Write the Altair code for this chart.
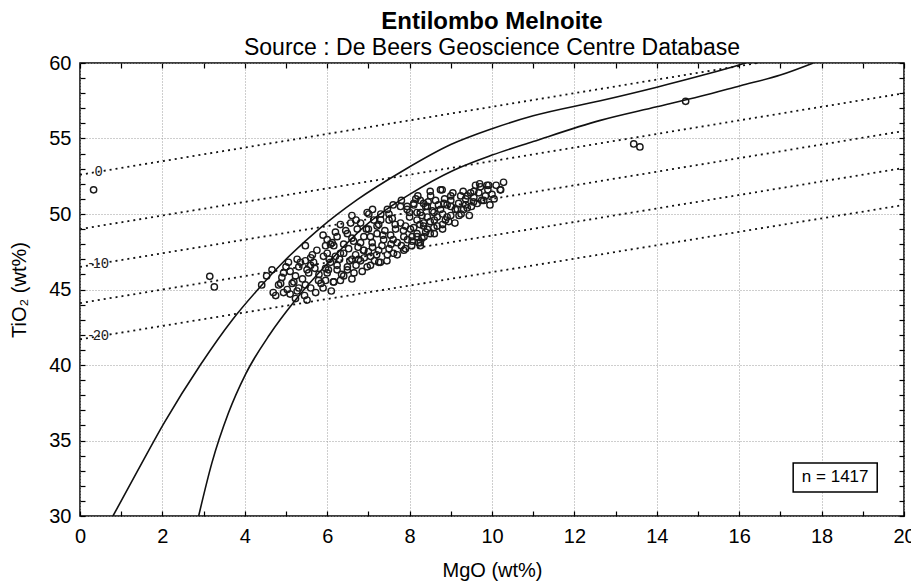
import altair as alt
import pandas as pd

FONT = "Liberation Sans"

# ---- Analyses (MgO, TiO2 in wt%) ----
mgo = [
    4.41, 4.53, 4.66, 4.69, 4.75, 4.82, 4.94, 5.06, 4.94, 5.19, 5.27, 5.31, 5.47, 5.51, 5.72,
    5.60, 5.79, 5.91, 5.96, 6.08, 6.15, 6.32, 6.24, 6.40, 6.49, 6.57, 6.64, 6.76, 6.81, 6.88,
    6.97, 7.05, 7.05, 7.21, 7.25, 7.33, 7.46, 7.54, 7.61, 7.78, 7.86, 7.94, 8.06, 8.18, 8.26,
    8.34, 8.43, 8.59, 8.75, 8.67, 8.83, 8.91, 9.00, 9.16, 9.24, 9.36, 9.48, 9.64, 9.72, 9.88,
    9.84, 10.20, 10.28,
    4.87, 5.15, 5.03, 5.27, 5.47, 5.55, 5.67, 5.96, 6.12, 6.03, 5.96, 5.47, 5.64, 5.23, 5.51,
    5.31, 5.23,
    7.01, 7.13, 7.58, 7.78, 7.94, 8.10, 8.26, 8.43, 6.00, 6.24, 6.49, 6.73, 6.89, 7.21, 7.37,
    7.66, 7.86, 8.02, 8.18, 8.34, 7.70, 8.06, 8.26, 7.90, 6.00, 6.16, 6.32, 6.52, 6.69, 6.89,
    7.05, 7.25, 7.46, 7.29, 6.81, 6.08, 6.24, 6.49, 6.65, 6.32, 6.00, 6.16, 6.97, 6.81, 7.09,
    7.25,
    8.79, 9.92, 10.21, 9.68, 9.56, 9.56, 9.40, 9.19, 9.36, 9.11, 9.31, 8.91, 8.51, 8.63, 8.26,
    8.39, 8.10, 8.75, 8.55, 8.18, 8.43, 8.67, 8.87, 8.34, 8.59, 8.10, 8.18, 8.39, 8.22,
    6.60, 7.30, 7.60, 8.20, 8.50, 9.00, 9.70, 9.50, 9.80, 10.00, 9.20,
    5.80, 6.30, 6.60, 6.90, 7.10, 7.40, 7.60, 7.90, 8.00, 7.50, 7.00, 6.60, 6.40, 6.20, 5.70,
    5.40, 5.10, 4.90, 5.60, 5.90, 6.40, 6.70, 7.15, 7.50, 7.80, 8.30, 8.50, 8.80, 9.00, 8.60,
    8.30, 8.80, 9.00,
    5.00, 5.10, 5.35, 5.45, 5.60, 5.75, 5.85, 5.90, 6.05, 6.10, 6.20, 6.35, 6.45, 6.55, 6.60,
    6.70, 6.75, 6.85, 6.95, 7.00, 7.10, 7.20, 7.30, 7.35, 7.45, 7.50, 7.55, 7.65, 7.70, 7.80,
    7.85, 7.95, 8.00, 8.05, 8.15, 8.25, 8.35, 8.45, 8.50, 8.60, 8.70, 8.80, 8.85, 8.95, 9.05,
    9.10, 9.25, 9.30, 9.40, 9.45, 9.55, 9.60, 9.75, 9.90, 10.05, 10.10, 9.95,
    0.33, 3.15, 3.26, 13.44, 13.59, 14.70,
]
tio2 = [
    45.3, 45.9, 46.3, 44.8, 44.6, 45.3, 46.1, 46.8, 44.8, 45.5, 47.0, 45.1, 47.9, 46.3, 44.8,
    47.1, 45.6, 47.2, 46.4, 48.0, 45.5, 49.3, 46.6, 47.4, 46.3, 49.4, 48.2, 47.0, 49.4, 47.6,
    50.1, 48.5, 46.6, 49.2, 46.8, 47.9, 50.3, 48.6, 47.4, 49.4, 47.6, 50.5, 48.5, 49.6, 47.9,
    50.7, 49.0, 50.1, 51.6, 49.2, 50.7, 49.8, 50.5, 50.3, 51.2, 51.0, 51.4, 50.7, 51.8, 51.9,
    51.2, 51.6, 52.1,
    45.4, 45.4, 45.0, 44.9, 45.3, 46.1, 46.8, 47.9, 48.1, 46.3, 45.6, 46.9, 47.3, 44.4, 44.3,
    46.5, 45.9,
    50.0, 49.6, 49.7, 50.5, 50.3, 50.6, 50.1, 50.5, 48.3, 48.5, 48.7, 49.0, 48.5, 48.7, 48.3,
    49.0, 48.5, 49.0, 48.7, 49.2, 48.1, 48.2, 48.1, 47.7, 47.4, 47.9, 47.4, 47.7, 47.3, 47.6,
    47.2, 47.6, 47.3, 46.8, 46.9, 46.8, 46.3, 46.5, 46.1, 45.6, 46.1, 45.5, 46.5, 48.1, 48.1,
    49.3,
    51.6, 51.9, 51.6, 51.4, 51.5, 51.1, 51.2, 50.7, 50.6, 50.3, 50.3, 50.6, 51.2, 50.9, 50.9,
    50.5, 50.7, 50.3, 50.2, 50.1, 49.8, 49.8, 49.6, 49.4, 49.1, 49.1, 48.5, 48.8, 48.1,
    49.9, 50.0, 50.6, 51.2, 51.5, 51.2, 52.0, 50.5, 50.9, 51.3, 49.9,
    46.0, 47.0, 47.0, 47.1, 47.8, 48.9, 48.3, 49.2, 49.8, 49.6, 49.0, 48.4, 48.0, 47.2, 46.4,
    45.7, 46.2, 45.8, 45.1, 45.1, 45.9, 46.6, 46.9, 47.7, 47.9, 48.4, 48.7, 49.3, 49.9, 49.6,
    49.9, 50.0, 50.9,
    46.5, 44.7, 46.8, 44.6, 46.6, 47.6, 45.4, 48.6, 47.0, 44.9, 48.8, 46.0, 48.9, 46.9, 45.7,
    49.6, 47.8, 46.2, 49.0, 47.5, 50.3, 47.3, 49.6, 48.6, 46.9, 50.0, 48.0, 49.3, 47.3, 50.9,
    48.9, 48.3, 50.1, 47.9, 51.0, 49.3, 48.5, 50.8, 49.5, 48.7, 50.6, 49.0, 51.0, 49.5, 51.4,
    49.4, 50.0, 51.5, 50.4, 49.9, 50.8, 51.9, 50.9, 51.6, 51.0, 51.9, 50.6,
    51.6, 45.87, 45.17, 54.64, 54.44, 57.46,
]

# ---- Solid model curves ----
curve_a_mgo = [0.80, 1.40, 2.05, 2.92, 3.70, 4.35, 5.00, 5.80, 6.73, 7.86, 9.00, 10.00,
               11.00, 12.63, 14.00, 15.06, 16.03, 16.20]
curve_a_tio2 = [30.0, 33.0, 36.2, 40.0, 43.0, 45.1, 47.0, 49.0, 50.95, 52.9, 54.6, 55.65,
                56.5, 57.5, 58.4, 59.15, 59.9, 60.05]
curve_b_mgo = [2.88, 3.20, 3.60, 4.02, 4.60, 5.20, 6.00, 7.00, 7.60, 8.00, 9.07, 10.00,
               11.00, 12.63, 14.00, 15.06, 16.03, 17.00, 17.80]
curve_b_tio2 = [30.0, 33.5, 36.8, 39.4, 42.0, 44.2, 46.7, 49.4, 50.6, 51.3, 52.9, 53.9,
                54.8, 56.2, 57.1, 57.8, 58.5, 59.2, 60.0]

# ---- Dotted reference lines (TiO2 at MgO = 0 and MgO = 20) ----
ref_left = [52.6, 49.0, 46.5, 44.1, 41.7]
ref_right = [61.6, 58.0, 55.5, 53.05, 50.6]
ref_labels = ["0", "", "-10", "", "-20"]
label_mgo = 0.45

n_text = "n = 1417"
n_box = {"x": 17.31, "x2": 19.35, "y": 31.59, "y2": 33.51}

XS = alt.Scale(domain=[0, 20], nice=False, zero=False)
YS = alt.Scale(domain=[30, 60], nice=False, zero=False)

pts = pd.DataFrame({"MgO": mgo, "TiO2": tio2})

curves = pd.DataFrame(
    {"MgO": curve_a_mgo + curve_b_mgo,
     "TiO2": curve_a_tio2 + curve_b_tio2,
     "curve": ["a"] * len(curve_a_mgo) + ["b"] * len(curve_b_mgo),
     "order": list(range(len(curve_a_mgo))) + list(range(len(curve_b_mgo)))}
)

ref_rows = []
lab_rows = []
for i, (l, r, t) in enumerate(zip(ref_left, ref_right, ref_labels)):
    ref_rows.append({"MgO": 0, "TiO2": l, "line": i})
    ref_rows.append({"MgO": 20, "TiO2": r, "line": i})
    if t:
        lab_rows.append({"MgO": label_mgo, "TiO2": l + (r - l) * label_mgo / 20, "lab": t})
refs = pd.DataFrame(ref_rows)
labs = pd.DataFrame(lab_rows)

main_x_axis = alt.Axis(
    values=list(range(0, 21, 2)), grid=True, gridColor="#9c9c9c", gridDash=[1, 2],
    ticks=False, domain=False, labelFont=FONT, labelFontSize=20, labelColor="black",
    labelPadding=10, labelFlush=False, title="MgO (wt%)", titleFont=FONT,
    titleFontSize=20, titleFontWeight="normal", titleColor="black", titlePadding=14,
)
main_y_axis = alt.Axis(
    values=list(range(30, 61, 5)), grid=True, gridColor="#9c9c9c", gridDash=[1, 2],
    ticks=False, domain=False, labelFont=FONT, labelFontSize=20, labelColor="black",
    labelPadding=9, title="TiO₂ (wt%)", titleFont=FONT, titleFontSize=20,
    titleFontWeight="normal", titleColor="black", titlePadding=19,
)

points = alt.Chart(pts).mark_point(
    shape="circle", filled=False, size=40, stroke="#1a1a1a", strokeWidth=1.4, opacity=1
).encode(
    x=alt.X("MgO:Q", scale=XS, axis=main_x_axis),
    y=alt.Y("TiO2:Q", scale=YS, axis=main_y_axis),
)

ref_lines = alt.Chart(refs).mark_line(
    color="#111111", strokeWidth=1.8, strokeDash=[2, 4], clip=True
).encode(
    x=alt.X("MgO:Q", scale=XS, axis=None),
    y=alt.Y("TiO2:Q", scale=YS, axis=None),
    detail="line:N",
)

ref_text = alt.Chart(labs).mark_text(
    font=FONT, fontSize=14, color="#222222", align="center", baseline="middle"
).encode(
    x=alt.X("MgO:Q", scale=XS, axis=None),
    y=alt.Y("TiO2:Q", scale=YS, axis=None),
    text="lab:N",
)

curve_lines = alt.Chart(curves).mark_line(
    color="#111111", strokeWidth=1.6, interpolate="monotone", clip=True
).encode(
    x=alt.X("MgO:Q", scale=XS, axis=None),
    y=alt.Y("TiO2:Q", scale=YS, axis=None),
    detail="curve:N",
    order="order:Q",
)

box = alt.Chart(pd.DataFrame([n_box])).mark_rect(
    fill="white", stroke="black", strokeWidth=1.5
).encode(
    x=alt.X("x:Q", scale=XS, axis=None), x2="x2:Q",
    y=alt.Y("y:Q", scale=YS, axis=None), y2="y2:Q",
)
box_text = alt.Chart(pd.DataFrame([{
    "x": (n_box["x"] + n_box["x2"]) / 2, "y": (n_box["y"] + n_box["y2"]) / 2, "t": n_text
}])).mark_text(font=FONT, fontSize=17, color="black", baseline="middle").encode(
    x=alt.X("x:Q", scale=XS, axis=None),
    y=alt.Y("y:Q", scale=YS, axis=None),
    text="t:N",
)

W, H = 824, 453


def tick_axis(orient, offset, values):
    return alt.Axis(
        orient=orient, offset=offset, values=values, labels=False, domain=False,
        grid=False, ticks=True, tickSize=5, tickColor="black", tickWidth=1.2, title=None,
    )


# inward ticks on all four sides of the frame
ticks_a = alt.Chart(pts).mark_point(opacity=0).encode(
    x=alt.X("MgO:Q", scale=XS, axis=tick_axis("top", -H, list(range(0, 21)))),
    y=alt.Y("TiO2:Q", scale=YS, axis=tick_axis("right", -W, list(range(30, 61)))),
)
ticks_b = alt.Chart(pts).mark_point(opacity=0).encode(
    x=alt.X("MgO:Q", scale=XS, axis=tick_axis("bottom", -H, list(range(0, 21)))),
    y=alt.Y("TiO2:Q", scale=YS, axis=tick_axis("left", -W, list(range(30, 61)))),
)

chart = alt.layer(
    points, ref_lines, ref_text, curve_lines, box, box_text, ticks_a, ticks_b
).resolve_axis(
    x="independent", y="independent"
).properties(
    width=W, height=H,
    autosize=alt.AutoSizeParams(type="none"),
    padding={"left": 80, "top": 63, "right": 7, "bottom": 71},
    title=alt.TitleParams(
        text="Entilombo Melnoite",
        subtitle="Source : De Beers Geoscience Centre Database",
        font=FONT, fontSize=24, fontWeight="bold", color="black",
        subtitleFont=FONT, subtitleFontSize=23, subtitleColor="black", subtitlePadding=3,
        anchor="middle", offset=-7,
    ),
).configure_view(stroke="black", strokeWidth=1.5)

chart.save("out.html", embed_options={"renderer": "svg", "actions": False})
